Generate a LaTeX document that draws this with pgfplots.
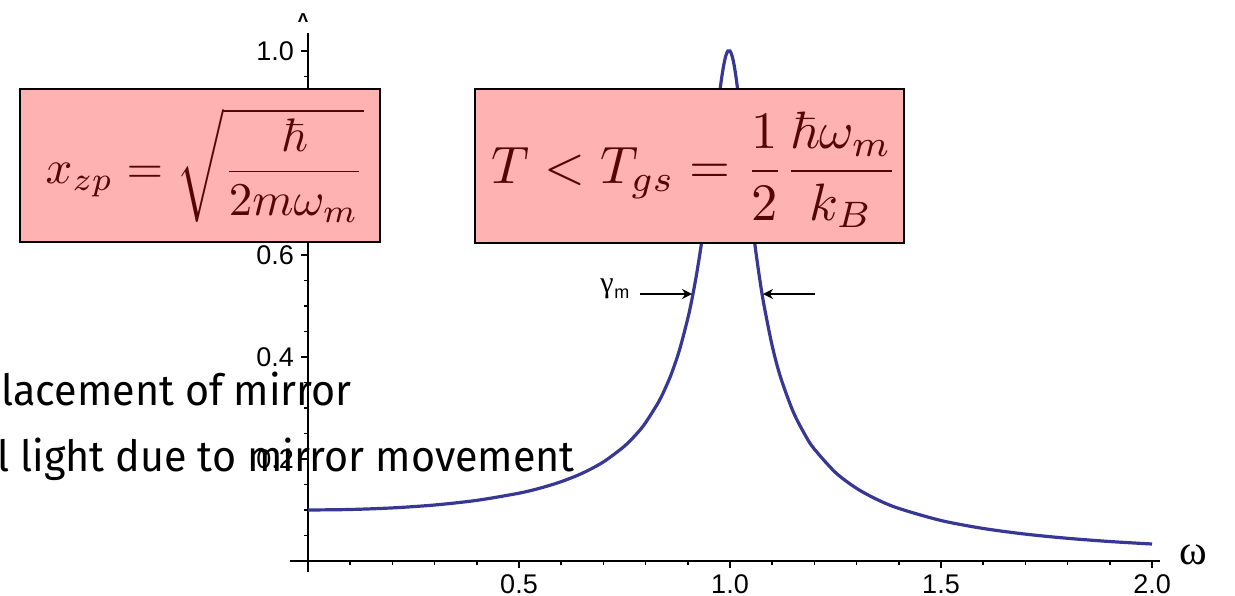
\documentclass[border=0pt]{standalone}
\usepackage{graphicx}
\usepackage{amssymb}
\usepackage{pgfplots}
\pgfplotsset{compat=1.18}
\usepackage[no-math]{fontspec}
\setmainfont{Liberation Sans}
\newfontfamily\slidefont{Fira Sans}
\newfontfamily\symfont{Liberation Serif}
\usetikzlibrary{arrows.meta}
\definecolor{curveblue}{RGB}{55,55,148}
\definecolor{boxpink}{RGB}{255,178,178}
\definecolor{formred}{RGB}{85,5,5}

\begin{document}
\begin{tikzpicture}
% 1 px of the reference = 0.5pt, origin at the lower left corner
\useasboundingbox (0,0) rectangle (617.5pt,297.5pt);
\clip (0,0) rectangle (617.5pt,297.5pt);
\begin{axis}[
  at={(154pt,17pt)}, anchor=origin,
  x=211pt, y=255pt,
  xmin=-0.043, xmax=2.019, ymin=-0.022, ymax=1.035,
  axis lines=middle, axis line style={-, line width=1pt, black},
  tick align=outside,
  xtick={0.5,1,1.5,2}, xticklabels={0.5,1.0,1.5,2.0},
  ytick={0.2,0.4,0.6,0.8,1.0}, yticklabels={0.2,0.4,0.6,0.8,1.0},
  minor xtick={0.1,0.2,0.3,0.4,0.6,0.7,0.8,0.9,1.1,1.2,1.3,1.4,1.6,1.7,1.8,1.9},
  minor ytick={0.05,0.1,0.15,0.25,0.3,0.35,0.45,0.5,0.55,0.65,0.7,0.75,0.85,0.9,0.95},
  major tick length=3.5pt, minor tick length=2pt,
  every tick/.style={black, line width=0.8pt},
  /pgf/number format/assume math mode=true,
  ticklabel style={font=\fontsize{13.5}{13.5}\selectfont},
]
\addplot[curveblue, line width=1.6pt, smooth] coordinates {
  (0,0.1000) (0.1,0.1010) (0.2,0.1041) (0.3,0.1098) (0.4,0.1189) (0.5,0.1330)
  (0.55,0.1429) (0.6,0.1556) (0.65,0.1721) (0.7,0.1943) (0.75,0.2253) (0.78,0.2505)
  (0.8,0.2712) (0.83,0.3106) (0.84,0.3266) (0.86,0.3647) (0.88,0.4130) (0.9,0.4757)
  (0.91,0.5141) (0.92,0.5585) (0.93,0.6097) (0.94,0.6684) (0.95,0.7346) (0.96,0.8068)
  (0.965,0.8439) (0.97,0.8804) (0.975,0.9150) (0.98,0.9461) (0.985,0.9718) (0.99,0.9903)
  (0.995,1.0000) (1.0,1.0000) (1.005,0.9901) (1.01,0.9711) (1.015,0.9442) (1.02,0.9115)
  (1.025,0.8747) (1.03,0.8357) (1.04,0.7565) (1.05,0.6815) (1.06,0.6142) (1.07,0.5552)
  (1.08,0.5041) (1.1,0.4218) (1.12,0.3598) (1.15,0.2921) (1.18,0.2441) (1.2,0.2193)
  (1.25,0.1735) (1.3,0.1424) (1.35,0.1200) (1.4,0.1031) (1.5,0.0794) (1.6,0.0638)
  (1.7,0.0527) (1.8,0.0445) (1.9,0.0382) (2.0,0.0333)};
\end{axis}
% axis name at the top, mostly hidden
\node[anchor=north, inner sep=0, font=\fontsize{13}{13}\selectfont] at (151.5pt,291pt) {A};
\fill[white] (142.5pt,286.5pt) rectangle (160pt,281.5pt);
% partial slide text behind the chart
\node[anchor=base east, inner sep=0, font=\slidefont\fontsize{21.5}{21.5}\selectfont] at (176pt,95pt)
  {\scalebox{0.96}[1]{lacement of mirror}};
\node[anchor=base east, inner sep=0, font=\slidefont\fontsize{21.5}{21.5}\selectfont] at (287.5pt,62pt)
  {\scalebox{0.96}[1]{l light due to mirror movement}};
% formula boxes
\node[draw=black, line width=1pt, fill=boxpink, minimum width=180pt, minimum height=76.5pt,
  inner sep=0, text=formred] (b1) at (100pt,214.75pt) {};
\node[inner sep=0, text=formred] at (102.5pt,214.75pt)
  {\scalebox{2.35}{$\displaystyle x_{zp} = \sqrt{\frac{\hbar}{2m\omega_m}}$}};
\node[draw=black, line width=1pt, fill=boxpink, minimum width=214.5pt, minimum height=77pt,
  inner sep=0] at (344.75pt,214.25pt) {};
\node[inner sep=0, text=formred] at (347.5pt,212.5pt)
  {\scalebox{2.63}{$\displaystyle T < T_{gs} = \frac{1}{2}\frac{\hbar\omega_m}{k_B}$}};
% linewidth marker
\draw[-{Stealth[length=5pt,width=5pt]}, line width=0.75pt] (320pt,150.5pt) -- (346pt,150.5pt);
\draw[-{Stealth[length=5pt,width=5pt]}, line width=0.75pt] (407.5pt,150.5pt) -- (381.5pt,150.5pt);
\node[anchor=base west, inner sep=0, font=\symfont\fontsize{15}{15}\selectfont] at (300pt,151.5pt) {γ};
\node[anchor=base west, inner sep=0, font=\fontsize{9}{9}\selectfont] at (307pt,148.5pt) {m};
\node[inner sep=0, font=\symfont\fontsize{21}{21}\selectfont] at (596.5pt,20pt) {ω};
\end{tikzpicture}
\end{document}
